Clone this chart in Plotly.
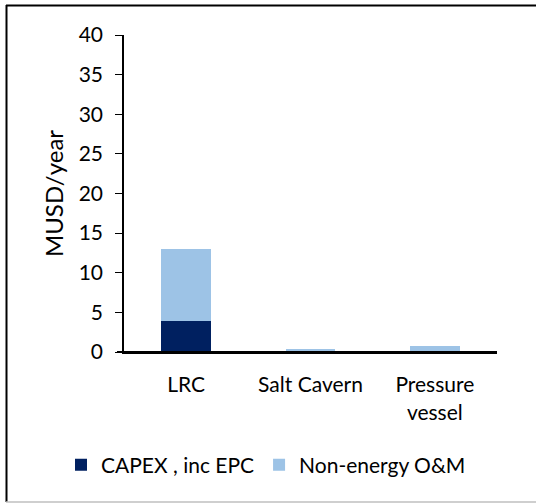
import plotly.graph_objects as go

# Annual cost breakdown per storage option (MUSD/year)
categories = ["LRC", "Salt Cavern", "Pressure<br>vessel"]
capex_inc_epc = [3.9, 0.05, 0.12]
non_energy_om = [9.1, 0.37, 0.65]
y_ticks = [0, 5, 10, 15, 20, 25, 30, 35, 40]

font_family = "Lato, 'Open Sans', sans-serif"
fs = 21

fig = go.Figure()
fig.add_trace(go.Bar(
    x=categories, y=capex_inc_epc, name="CAPEX , inc EPC",
    marker=dict(color="#002060", line=dict(width=0)),
))
fig.add_trace(go.Bar(
    x=categories, y=non_energy_om, name="Non-energy O&M",
    marker=dict(color="#9DC3E6", line=dict(width=0)),
))

W, H = 536, 504
L, R, T, B = 124, 39, 35, 152
pw, ph = W - L - R, H - T - B

def px(x):
    return (x - L) / pw

def py(y):
    return (H - B - y) / ph

fig.update_layout(
    barmode="stack",
    bargap=0.6,
    width=W, height=H,
    margin=dict(l=L, r=R, t=T, b=B, autoexpand=False),
    paper_bgcolor="white",
    plot_bgcolor="white",
    font=dict(family=font_family, size=fs, color="#000000"),
    showlegend=True,
    legend=dict(
        orientation="h", x=px(61), xanchor="left", y=py(465), yanchor="middle",
        font=dict(size=fs), traceorder="normal", itemwidth=30,
    ),
    xaxis=dict(
        showline=True, linecolor="#000000", linewidth=2,
        ticks="", showgrid=False, tickfont=dict(size=fs),
        ticklabelstandoff=13,
    ),
    yaxis=dict(
        range=[0, 40], tickvals=y_ticks, showline=True, linecolor="#000000",
        linewidth=1.5, ticks="outside", ticklen=7, tickcolor="#000000",
        showgrid=False, zeroline=False, tickfont=dict(size=fs),
        ticklabelstandoff=8,
        title=dict(text="MUSD/year", font=dict(size=24), standoff=8),
    ),
    shapes=[
        # outer frame: dark top/left, light bottom
        dict(type="line", xref="paper", yref="paper", x0=px(6), x1=px(536),
             y0=py(5.5), y1=py(5.5), line=dict(color="#000000", width=2)),
        dict(type="line", xref="paper", yref="paper", x0=px(6.5), x1=px(6.5),
             y0=py(5), y1=py(502), line=dict(color="#000000", width=2)),
        dict(type="line", xref="paper", yref="paper", x0=px(6), x1=px(536),
             y0=py(502), y1=py(502), line=dict(color="#BFBFBF", width=1.5)),
        # x axis line extends left of the y axis
        dict(type="line", xref="paper", yref="paper", x0=px(117), x1=1,
             y0=0, y1=0, line=dict(color="#000000", width=2)),
    ],
)

fig.write_html("out.html")
